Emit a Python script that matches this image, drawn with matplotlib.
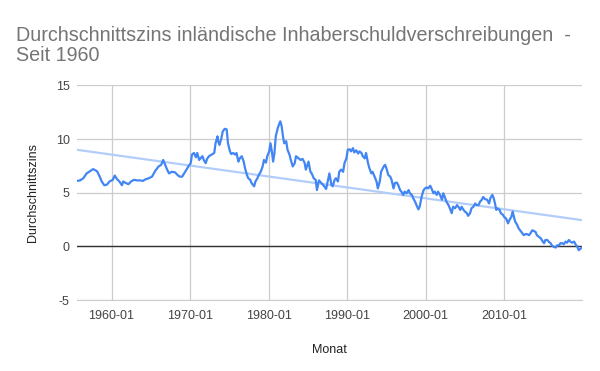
import numpy as np
import pandas as pd
import matplotlib
matplotlib.use('Agg')
from matplotlib import pyplot as plt
import matplotlib.dates as mdates

# Werte (Monat, Zins in %)
months = [
    '1955-08', '1956-01', '1956-06', '1956-11', '1957-04', '1957-09', '1958-03', '1958-07',
    '1958-10', '1959-02', '1959-06', '1959-10', '1960-03', '1960-06', '1960-09', '1961-01',
    '1961-05', '1961-07', '1961-11', '1962-03', '1962-07', '1962-11', '1963-04', '1963-09',
    '1964-01', '1964-05', '1964-10', '1965-03', '1965-08', '1966-01', '1966-05', '1966-08',
    '1966-10', '1967-02', '1967-05', '1967-09', '1968-02', '1968-06', '1968-09', '1969-01',
    '1969-05', '1969-10', '1970-02', '1970-04', '1970-07', '1970-10', '1970-12', '1971-03',
    '1971-05', '1971-08', '1971-10', '1972-01', '1972-03', '1972-06', '1972-10', '1973-02',
    '1973-04', '1973-07', '1973-08', '1973-10', '1974-01', '1974-03', '1974-06', '1974-09',
    '1974-11', '1975-02', '1975-04', '1975-07', '1975-10', '1975-12', '1976-03', '1976-05',
    '1976-08', '1976-11', '1977-01', '1977-04', '1977-06', '1977-09', '1977-11', '1978-03',
    '1978-05', '1978-08', '1978-10', '1979-01', '1979-04', '1979-06', '1979-09', '1979-11',
    '1980-02', '1980-04', '1980-06', '1980-08', '1980-10', '1980-12', '1981-03', '1981-05',
    '1981-07', '1981-09', '1981-11', '1982-01', '1982-04', '1982-06', '1982-09', '1982-11',
    '1983-02', '1983-05', '1983-07', '1983-11', '1984-02', '1984-05', '1984-08', '1984-10',
    '1985-02', '1985-05', '1985-07', '1985-10', '1986-01', '1986-03', '1986-06', '1986-09',
    '1986-12', '1987-02', '1987-05', '1987-08', '1987-10', '1988-01', '1988-03', '1988-06',
    '1988-08', '1988-11', '1989-01', '1989-04', '1989-07', '1989-09', '1989-12', '1990-02',
    '1990-05', '1990-07', '1990-10', '1990-12', '1991-03', '1991-06', '1991-08', '1991-11',
    '1992-01', '1992-04', '1992-06', '1992-09', '1992-11', '1993-02', '1993-04', '1993-07',
    '1993-10', '1993-12', '1994-03', '1994-05', '1994-09', '1994-11', '1995-01', '1995-04',
    '1995-07', '1995-09', '1995-12', '1996-02', '1996-05', '1996-07', '1996-10', '1996-12',
    '1997-03', '1997-05', '1997-08', '1997-11', '1998-01', '1998-04', '1998-06', '1998-09',
    '1998-11', '1999-02', '1999-04', '1999-07', '1999-10', '1999-12', '2000-03', '2000-05',
    '2000-08', '2000-10', '2001-01', '2001-03', '2001-06', '2001-08', '2001-11', '2002-02',
    '2002-04', '2002-07', '2002-09', '2002-12', '2003-02', '2003-05', '2003-07', '2003-10',
    '2004-01', '2004-03', '2004-06', '2004-08', '2004-11', '2005-01', '2005-04', '2005-06',
    '2005-09', '2005-11', '2006-02', '2006-05', '2006-07', '2006-10', '2006-12', '2007-03',
    '2007-05', '2007-08', '2007-11', '2008-02', '2008-04', '2008-07', '2008-09', '2008-11',
    '2009-01', '2009-03', '2009-06', '2009-08', '2009-11', '2010-01', '2010-04', '2010-07',
    '2010-09', '2010-12', '2011-02', '2011-04', '2011-06', '2011-09', '2011-11', '2012-02',
    '2012-04', '2012-07', '2012-10', '2012-12', '2013-03', '2013-05', '2013-08', '2013-10',
    '2014-01', '2014-03', '2014-06', '2014-09', '2014-11', '2015-02', '2015-04', '2015-07',
    '2015-09', '2015-12', '2016-02', '2016-05', '2016-08', '2016-10', '2017-01', '2017-03',
    '2017-06', '2017-08', '2017-11', '2018-01', '2018-04', '2018-06', '2018-09', '2018-12',
    '2019-02', '2019-05', '2019-07', '2019-10', '2019-12',
]
rates = [
    6.1, 6.15, 6.35, 6.8, 7.0, 7.2, 7.0, 6.5,
    6.05, 5.7, 5.75, 6.05, 6.2, 6.6, 6.3, 6.05,
    5.7, 6.05, 5.9, 5.8, 6.05, 6.2, 6.15, 6.15,
    6.1, 6.25, 6.35, 6.5, 7.05, 7.45, 7.6, 8.05,
    7.75, 7.15, 6.8, 6.95, 6.9, 6.65, 6.5, 6.5,
    6.9, 7.4, 7.75, 8.55, 8.7, 8.3, 8.7, 8.05,
    8.2, 8.4, 8.05, 7.75, 8.15, 8.4, 8.55, 8.7,
    9.6, 10.25, 9.8, 9.45, 10.1, 10.7, 10.95, 10.9,
    9.6, 8.85, 8.6, 8.7, 8.55, 8.7, 7.9, 8.2,
    8.4, 7.9, 7.3, 6.65, 6.35, 6.2, 5.9, 5.6,
    6.05, 6.35, 6.65, 6.95, 7.45, 8.05, 7.8, 8.4,
    8.85, 9.6, 8.85, 7.9, 8.7, 10.25, 11.0, 11.35,
    11.65, 11.2, 10.25, 9.6, 9.8, 9.0, 8.55, 8.05,
    7.45, 7.75, 8.4, 8.2, 8.05, 8.15, 7.8, 7.15,
    7.9, 6.95, 6.8, 6.35, 6.2, 5.25, 6.15, 5.95,
    5.75, 5.6, 5.35, 6.2, 6.8, 5.75, 5.6, 6.2,
    6.35, 6.05, 6.95, 7.15, 6.95, 7.75, 8.2, 9.0,
    9.05, 8.85, 9.15, 8.75, 8.95, 8.65, 8.85, 8.7,
    8.4, 8.2, 8.7, 7.75, 7.3, 6.8, 6.95, 6.5,
    6.05, 5.4, 6.05, 6.95, 7.45, 7.6, 7.3, 6.65,
    6.5, 6.2, 5.4, 5.9, 5.95, 5.75, 5.25, 5.1,
    4.8, 5.1, 4.95, 5.25, 4.95, 4.8, 4.5, 4.15,
    3.85, 3.45, 3.7, 4.65, 5.25, 5.4, 5.5, 5.4,
    5.65, 5.4, 4.95, 5.1, 4.8, 5.1, 4.8, 4.35,
    4.95, 4.5, 4.15, 3.85, 3.55, 3.1, 3.7, 3.55,
    3.85, 3.7, 3.4, 3.7, 3.4, 3.25, 3.1, 2.85,
    3.1, 3.55, 3.7, 4.0, 3.85, 3.85, 4.15, 4.35,
    4.6, 4.4, 4.35, 4.0, 4.5, 4.8, 4.5, 4.0,
    3.4, 3.55, 3.4, 3.1, 2.95, 2.75, 2.6, 2.15,
    2.45, 2.75, 3.25, 2.75, 2.3, 2.0, 1.7, 1.45,
    1.3, 1.05, 1.15, 1.15, 1.05, 1.2, 1.5, 1.45,
    1.35, 1.05, 0.9, 0.75, 0.55, 0.3, 0.6, 0.6,
    0.45, 0.3, 0.1, -0.05, -0.1, 0.1, 0.1, 0.3,
    0.3, 0.2, 0.45, 0.35, 0.6, 0.45, 0.35, 0.45,
    0.2, -0.05, -0.35, -0.2, -0.1,
]
# Trendlinie: Anfangs- und Endwert
trend_months = ['1955-08', '2019-12']
trend_values = [9.0, 2.45]

y_ticks = [-5, 0, 5, 10, 15]
x_tick_months = ['1960-01', '1970-01', '1980-01', '1990-01', '2000-01', '2010-01']

xnum = mdates.date2num(pd.to_datetime(months, format='%Y-%m'))
trend_x = mdates.date2num(pd.to_datetime(trend_months, format='%Y-%m'))

plt.rcParams['font.family'] = ['Liberation Sans', 'DejaVu Sans']
fig = plt.figure(figsize=(6, 3.71), dpi=100)
ax = fig.add_axes([0.128, 0.191, 0.842, 0.579])

ax.plot(trend_x, trend_values, color='#b3cdfa', lw=1.6, zorder=2)
ax.plot(xnum, rates, color='#4285f4', lw=1.6, zorder=3)
ax.axhline(0, color='#333333', lw=1.0, zorder=2)

ax.set_ylim(-5, 15)
ax.set_xlim(xnum[0], xnum[-1])
ax.set_yticks(y_ticks)
ax.set_yticklabels([str(v) for v in y_ticks])
ax.set_xticks(mdates.date2num(pd.to_datetime(x_tick_months, format='%Y-%m')))
ax.set_xticklabels(x_tick_months)

ax.grid(True, color='#cccccc', lw=0.9, zorder=1)
ax.set_axisbelow(True)
for side in ['top', 'right', 'left']:
    ax.spines[side].set_visible(False)
ax.spines['bottom'].set_color('#cccccc')
ax.tick_params(axis='both', length=0, labelsize=9, colors='#444444')
ax.tick_params(axis='y', pad=5)
ax.tick_params(axis='x', pad=7)

ax.set_xlabel('Monat', fontsize=9, color='#222222', labelpad=16)
ax.set_ylabel('Durchschnittszins', fontsize=9, color='#222222', labelpad=12)

fig.text(0.027, 0.93, 'Durchschnittszins inländische Inhaberschuldverschreibungen  -\nSeit 1960',
         fontsize=14.2, color='#757575', ha='left', va='top', linespacing=1.05)

plt.savefig('out.png', dpi=100)
